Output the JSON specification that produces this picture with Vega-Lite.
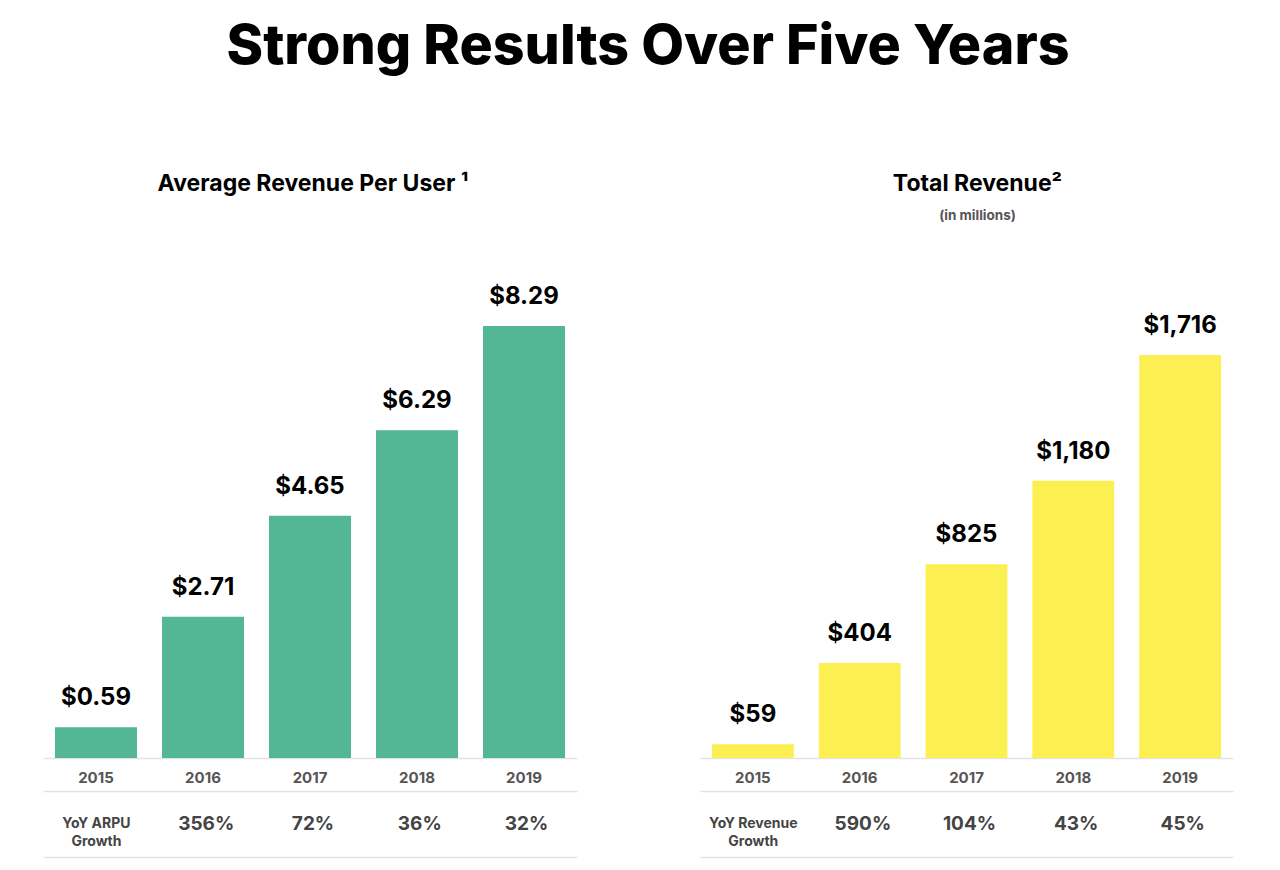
{
  "$schema": "https://vega.github.io/schema/vega-lite/v6.json",
  "background": "white",
  "padding": {"left": 43, "top": 20, "right": 47, "bottom": 12},
  "title": {"text": "Strong Results Over Five Years", "fontSize": 55.5, "font": "Inter", "fontWeight": 800, "color": "#000000", "anchor": "middle", "offset": 97, "dx": 10},
  "config": {"view": {"stroke": null}, "font": "Inter"},
  "datasets": {
    "arpu": [
      {"year": "2015", "value": 0.59, "growth": null},
      {"year": "2016", "value": 2.71, "growth": 3.56},
      {"year": "2017", "value": 4.65, "growth": 0.72},
      {"year": "2018", "value": 6.29, "growth": 0.36},
      {"year": "2019", "value": 8.29, "growth": 0.32}
    ],
    "revenue": [
      {"year": "2015", "value": 59, "growth": null},
      {"year": "2016", "value": 404, "growth": 5.90},
      {"year": "2017", "value": 825, "growth": 1.04},
      {"year": "2018", "value": 1180, "growth": 0.43},
      {"year": "2019", "value": 1716, "growth": 0.45}
    ]
  },
  "spacing": 123,
  "hconcat": [
    {
      "title": {"text": "Average Revenue Per User \u00b9", "subtitle": " ", "fontSize": 23, "fontWeight": "bold", "color": "#000000", "subtitleFontSize": 13.5, "subtitleFontWeight": "bold", "subtitleColor": "#555555", "subtitlePadding": 13, "anchor": "middle", "offset": 28, "dx": 3},
      "bounds": "flush",
      "spacing": 33,
      "vconcat": [
        {
          "width": 534, "height": 508,
          "data": {"name": "arpu"},
          "encoding": {
            "x": {"field": "year", "type": "nominal", "scale": {"paddingInner": 0.2336, "paddingOuter": 0.112},
                  "axis": {"title": null, "labelAngle": 0, "labelFontSize": 15, "labelFontWeight": "bold", "labelColor": "#555555", "ticks": false, "labelPadding": 12, "domainColor": "#e3e3e3", "domainWidth": 1.5}},
            "y": {"field": "value", "type": "quantitative", "scale": {"domain": [0, 9.75], "nice": false}, "axis": null}
          },
          "layer": [
            {"mark": {"type": "bar", "color": "#53b694"}},
            {"mark": {"type": "text", "baseline": "alphabetic", "dy": -22, "fontSize": 24, "fontWeight": "bold", "color": "#000000"},
             "encoding": {"text": {"field": "value", "format": "$.2f"}}}
          ]
        },
        {
          "width": 534, "height": 66,
          "data": {"name": "arpu"},
          "encoding": {
            "x": {"field": "year", "type": "nominal", "scale": {"paddingInner": 0.2336, "paddingOuter": 0.112}, "axis": null},
            "y": {"datum": 0.5, "type": "quantitative", "scale": {"domain": [0, 1], "nice": false},
                  "axis": {"values": [0, 1], "grid": true, "gridColor": "#e3e3e3", "gridWidth": 1.5, "domain": false, "labels": false, "ticks": false, "title": null}}
          },
          "layer": [
            {
              "transform": [{"filter": "datum.growth != null"}],
              "mark": {"type": "text", "baseline": "middle", "fontSize": 19, "fontWeight": "bold", "color": "#444444", "dx": 3},
              "encoding": {"text": {"field": "growth", "format": ".0%"}}
            },
            {
              "transform": [{"filter": "datum.year == '2015'"}],
              "mark": {"type": "text", "baseline": "middle", "fontSize": 14, "fontWeight": "bold", "color": "#444444", "lineHeight": 18, "text": ["YoY ARPU", "Growth"]}
            }
          ]
        }
      ]
    },
    {
      "title": {"text": "Total Revenue\u00b2", "subtitle": "(in millions)", "fontSize": 23, "fontWeight": "bold", "color": "#000000", "subtitleFontSize": 13.5, "subtitleFontWeight": "bold", "subtitleColor": "#555555", "subtitlePadding": 13, "anchor": "middle", "offset": 28, "dx": 11},
      "bounds": "flush",
      "spacing": 33,
      "vconcat": [
        {
          "width": 533, "height": 508,
          "data": {"name": "revenue"},
          "encoding": {
            "x": {"field": "year", "type": "nominal", "scale": {"paddingInner": 0.2336, "paddingOuter": 0.112},
                  "axis": {"title": null, "labelAngle": 0, "labelFontSize": 15, "labelFontWeight": "bold", "labelColor": "#555555", "ticks": false, "labelPadding": 12, "domainColor": "#e3e3e3", "domainWidth": 1.5}},
            "y": {"field": "value", "type": "quantitative", "scale": {"domain": [0, 2163], "nice": false}, "axis": null}
          },
          "layer": [
            {"mark": {"type": "bar", "color": "#fcef52"}},
            {"mark": {"type": "text", "baseline": "alphabetic", "dy": -22, "fontSize": 24, "fontWeight": "bold", "color": "#000000"},
             "encoding": {"text": {"field": "value", "format": "$,.0f"}}}
          ]
        },
        {
          "width": 533, "height": 66,
          "data": {"name": "revenue"},
          "encoding": {
            "x": {"field": "year", "type": "nominal", "scale": {"paddingInner": 0.2336, "paddingOuter": 0.112}, "axis": null},
            "y": {"datum": 0.5, "type": "quantitative", "scale": {"domain": [0, 1], "nice": false},
                  "axis": {"values": [0, 1], "grid": true, "gridColor": "#e3e3e3", "gridWidth": 1.5, "domain": false, "labels": false, "ticks": false, "title": null}}
          },
          "layer": [
            {
              "transform": [{"filter": "datum.growth != null"}],
              "mark": {"type": "text", "baseline": "middle", "fontSize": 19, "fontWeight": "bold", "color": "#444444", "dx": 3},
              "encoding": {"text": {"field": "growth", "format": ".0%"}}
            },
            {
              "transform": [{"filter": "datum.year == '2015'"}],
              "mark": {"type": "text", "baseline": "middle", "fontSize": 14, "fontWeight": "bold", "color": "#444444", "lineHeight": 18, "text": ["YoY Revenue", "Growth"]}
            }
          ]
        }
      ]
    }
  ]
}
